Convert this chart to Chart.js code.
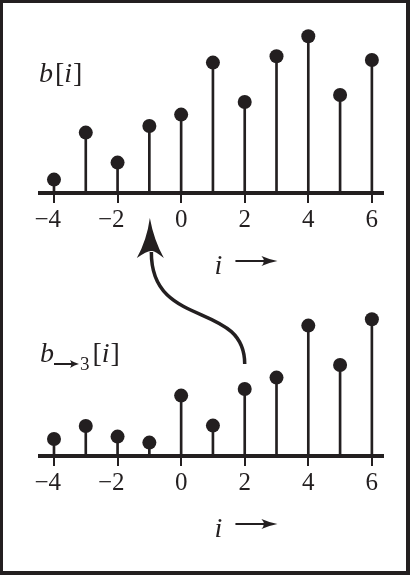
<!DOCTYPE html>
<html><head><meta charset="utf-8">
<script src="https://cdn.jsdelivr.net/npm/chart.js@4.4.1/dist/chart.umd.min.js"></script>
<style>
html,body{margin:0;padding:0;background:#fff;}
#page{position:relative;width:410px;height:575px;overflow:hidden;background:#fff;}
#frame{position:absolute;left:0;top:0;width:410px;height:575px;box-sizing:border-box;border-style:solid;border-color:#231f20;border-width:3px 4px 4px 3px;pointer-events:none;}
canvas{position:absolute;left:0;}
</style></head><body>
<div id="page">
<canvas id="top" width="410" height="300" style="top:-2px"></canvas>
<canvas id="bot" width="410" height="300" style="top:261px"></canvas>
<canvas id="ann" width="410" height="575" style="top:0"></canvas>
<div id="frame"></div>
</div>
<script>
// ---- data ----
const indices = [-4, -3, -2, -1, 0, 1, 2, 3, 4, 5, 6];
const bValues = [0.67, 3.02, 1.52, 3.35, 3.92, 6.52, 4.55, 6.84, 7.84, 4.90, 6.65];
const bShiftValues = [0.85, 1.50, 0.97, 0.67, 3.02, 1.52, 3.35, 3.92, 6.52, 4.55, 6.84];
const tickValues = [-4, -2, 0, 2, 4, 6];

const INK = '#231f20';
const SERIF = '"Liberation Serif"';
const TOP_OFF = -2, BOT_OFF = 261;

function makeChart(el, values) {
  const pts = indices.map((x, k) => ({ x: x, y: values[k] }));
  return new Chart(el, {
    type: 'bar',
    data: {
      datasets: [
        { type: 'line', data: pts, showLine: false, pointRadius: 7, pointHoverRadius: 7,
          pointBackgroundColor: INK, pointBorderWidth: 0, order: 0, clip: false },
        { type: 'bar', data: pts, backgroundColor: INK, barThickness: 2, borderWidth: 0, order: 1 }
      ]
    },
    options: {
      responsive: false, animation: false, events: [],
      layout: { padding: { left: 40, right: 27, top: 10, bottom: 60 } },
      plugins: { legend: { display: false }, tooltip: { enabled: false } },
      scales: {
        x: {
          type: 'linear', min: -4.44, max: 6.35, offset: false,
          afterBuildTicks: s => { s.ticks = tickValues.map(v => ({ value: v })); },
          afterFit: s => { s.height = 45; },
          grid: { offset: false, drawOnChartArea: false, drawTicks: true, tickLength: 10, lineWidth: 2, color: INK },
          border: { display: true, width: 4, color: INK },
          ticks: { padding: 2, color: INK, autoSkip: false, maxRotation: 0,
            font: { family: SERIF, size: 25 },
            callback: v => v < 0 ? '\u2212' + Math.abs(v) + '\u2007' : String(v) }
        },
        y: { display: false, min: 0, max: 9.25 }
      }
    }
  });
}

const topChart = makeChart(document.getElementById('top'), bValues);
const botChart = makeChart(document.getElementById('bot'), bShiftValues);

function drawAnnotations() {
  const c = document.getElementById('ann');
  const ctx = c.getContext('2d');
  ctx.clearRect(0, 0, c.width, c.height);
  ctx.fillStyle = INK; ctx.strokeStyle = INK;
  ctx.textBaseline = 'alphabetic'; ctx.textAlign = 'left';
  const IT = 'italic 28px ' + SERIF, RM = '28px ' + SERIF;

  function seq(x, y, parts) {
    for (const p of parts) {
      ctx.font = p.f; ctx.fillText(p.t, x, y + (p.dy || 0));
      x += ctx.measureText(p.t).width + (p.g || 0);
    }
    return x;
  }
  function hArrow(x1, x2, y, lw, hl, hw) {
    ctx.lineWidth = lw;
    ctx.beginPath(); ctx.moveTo(x1, y); ctx.lineTo(x2 - hl * 0.6, y); ctx.stroke();
    ctx.beginPath();
    ctx.moveTo(x2, y);
    ctx.quadraticCurveTo(x2 - hl * 0.5, y - hw * 0.15, x2 - hl, y - hw / 2);
    ctx.quadraticCurveTo(x2 - hl * 0.7, y, x2 - hl, y + hw / 2);
    ctx.quadraticCurveTo(x2 - hl * 0.5, y + hw * 0.15, x2, y);
    ctx.fill();
  }

  // b[i]
  seq(39, 82, [{ t: 'b', f: IT, g: 2 }, { t: '[', f: RM }, { t: 'i', f: IT, g: 1 }, { t: ']', f: RM }]);
  // b_{->3}[i]
  let x = seq(40, 362, [{ t: 'b', f: IT }]);
  hArrow(x, x + 25, 364, 2, 9, 8);
  x = seq(x + 26, 370, [{ t: '3', f: '19px ' + SERIF }]);
  seq(x + 3, 362, [{ t: '[', f: RM }, { t: 'i', f: IT, g: 1 }, { t: ']', f: RM }]);

  // i -> axis labels
  for (const [ch, off] of [[topChart, TOP_OFF], [botChart, BOT_OFF]]) {
    const axisY = ch.chartArea.bottom + off;
    const xi = ch.scales.x.getPixelForValue(1) + 1.5;
    seq(xi, axisY + 81, [{ t: 'i', f: IT }]);
    hArrow(xi + 21, xi + 63, axisY + 68, 2.2, 16, 10);
  }

  // curved arrow from b_{->3}[2] up to b[-1]
  const sx = botChart.scales.x.getPixelForValue(2);
  const sy = botChart.scales.y.getPixelForValue(bShiftValues[6]) + BOT_OFF - 25;
  const ex = topChart.scales.x.getPixelForValue(-1) + 1.5;
  const tipY = topChart.chartArea.bottom + TOP_OFF + 25;
  ctx.lineWidth = 3.5; ctx.lineCap = 'butt';
  ctx.beginPath();
  ctx.moveTo(sx, sy);
  ctx.bezierCurveTo(sx, sy - 64, ex, sy - 34, ex + 0.5, tipY + 34);
  ctx.stroke();
  // arrowhead
  const tx = ex - 1, ty = tipY;
  ctx.beginPath();
  ctx.moveTo(tx, ty);
  ctx.quadraticCurveTo(tx + 4, ty + 22, tx + 14, ty + 40);
  ctx.quadraticCurveTo(tx + 4, ty + 32, tx + 2, ty + 33);
  ctx.quadraticCurveTo(tx - 2, ty + 32, tx - 13, ty + 40);
  ctx.quadraticCurveTo(tx - 3, ty + 22, tx, ty);
  ctx.fill();
}
drawAnnotations();
</script>
</body></html>
